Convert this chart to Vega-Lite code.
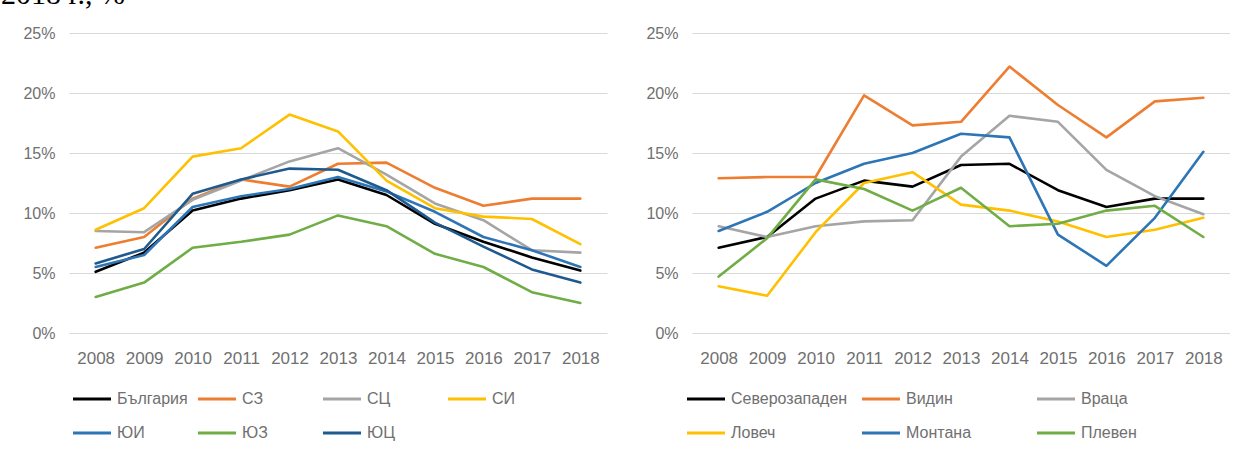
{
  "$schema": "https://vega.github.io/schema/vega-lite/v6.json",
  "background": "white",
  "padding": {"left": 0, "top": -20, "right": 0, "bottom": 0},
  "title": {"text": "2018 г., %", "anchor": "start", "frame": "bounds", "font": "Liberation Serif", "fontSize": 30, "fontWeight": "normal", "color": "#000000", "dx": -22, "offset": 15},
  "bounds": "flush",
  "spacing": 85,
  "resolve": {"scale": {"color": "independent"}},
  "datasets": {
    "left": [
      {"year": "2008", "series": "България", "value": 5.1}, {"year": "2009", "series": "България", "value": 6.7}, {"year": "2010", "series": "България", "value": 10.2}, {"year": "2011", "series": "България", "value": 11.2}, {"year": "2012", "series": "България", "value": 11.9}, {"year": "2013", "series": "България", "value": 12.8}, {"year": "2014", "series": "България", "value": 11.5}, {"year": "2015", "series": "България", "value": 9.1}, {"year": "2016", "series": "България", "value": 7.6}, {"year": "2017", "series": "България", "value": 6.3}, {"year": "2018", "series": "България", "value": 5.2},
      {"year": "2008", "series": "СЗ", "value": 7.1}, {"year": "2009", "series": "СЗ", "value": 8.0}, {"year": "2010", "series": "СЗ", "value": 11.2}, {"year": "2011", "series": "СЗ", "value": 12.8}, {"year": "2012", "series": "СЗ", "value": 12.2}, {"year": "2013", "series": "СЗ", "value": 14.1}, {"year": "2014", "series": "СЗ", "value": 14.2}, {"year": "2015", "series": "СЗ", "value": 12.1}, {"year": "2016", "series": "СЗ", "value": 10.6}, {"year": "2017", "series": "СЗ", "value": 11.2}, {"year": "2018", "series": "СЗ", "value": 11.2},
      {"year": "2008", "series": "СЦ", "value": 8.5}, {"year": "2009", "series": "СЦ", "value": 8.4}, {"year": "2010", "series": "СЦ", "value": 11.1}, {"year": "2011", "series": "СЦ", "value": 12.7}, {"year": "2012", "series": "СЦ", "value": 14.3}, {"year": "2013", "series": "СЦ", "value": 15.4}, {"year": "2014", "series": "СЦ", "value": 13.2}, {"year": "2015", "series": "СЦ", "value": 10.8}, {"year": "2016", "series": "СЦ", "value": 9.4}, {"year": "2017", "series": "СЦ", "value": 6.9}, {"year": "2018", "series": "СЦ", "value": 6.7},
      {"year": "2008", "series": "СИ", "value": 8.6}, {"year": "2009", "series": "СИ", "value": 10.4}, {"year": "2010", "series": "СИ", "value": 14.7}, {"year": "2011", "series": "СИ", "value": 15.4}, {"year": "2012", "series": "СИ", "value": 18.2}, {"year": "2013", "series": "СИ", "value": 16.8}, {"year": "2014", "series": "СИ", "value": 12.7}, {"year": "2015", "series": "СИ", "value": 10.4}, {"year": "2016", "series": "СИ", "value": 9.7}, {"year": "2017", "series": "СИ", "value": 9.5}, {"year": "2018", "series": "СИ", "value": 7.4},
      {"year": "2008", "series": "ЮИ", "value": 5.5}, {"year": "2009", "series": "ЮИ", "value": 6.5}, {"year": "2010", "series": "ЮИ", "value": 10.5}, {"year": "2011", "series": "ЮИ", "value": 11.4}, {"year": "2012", "series": "ЮИ", "value": 12.0}, {"year": "2013", "series": "ЮИ", "value": 13.0}, {"year": "2014", "series": "ЮИ", "value": 11.8}, {"year": "2015", "series": "ЮИ", "value": 10.1}, {"year": "2016", "series": "ЮИ", "value": 8.0}, {"year": "2017", "series": "ЮИ", "value": 6.9}, {"year": "2018", "series": "ЮИ", "value": 5.5},
      {"year": "2008", "series": "ЮЗ", "value": 3.0}, {"year": "2009", "series": "ЮЗ", "value": 4.2}, {"year": "2010", "series": "ЮЗ", "value": 7.1}, {"year": "2011", "series": "ЮЗ", "value": 7.6}, {"year": "2012", "series": "ЮЗ", "value": 8.2}, {"year": "2013", "series": "ЮЗ", "value": 9.8}, {"year": "2014", "series": "ЮЗ", "value": 8.9}, {"year": "2015", "series": "ЮЗ", "value": 6.6}, {"year": "2016", "series": "ЮЗ", "value": 5.5}, {"year": "2017", "series": "ЮЗ", "value": 3.4}, {"year": "2018", "series": "ЮЗ", "value": 2.5},
      {"year": "2008", "series": "ЮЦ", "value": 5.8}, {"year": "2009", "series": "ЮЦ", "value": 7.0}, {"year": "2010", "series": "ЮЦ", "value": 11.6}, {"year": "2011", "series": "ЮЦ", "value": 12.8}, {"year": "2012", "series": "ЮЦ", "value": 13.7}, {"year": "2013", "series": "ЮЦ", "value": 13.6}, {"year": "2014", "series": "ЮЦ", "value": 11.9}, {"year": "2015", "series": "ЮЦ", "value": 9.2}, {"year": "2016", "series": "ЮЦ", "value": 7.2}, {"year": "2017", "series": "ЮЦ", "value": 5.3}, {"year": "2018", "series": "ЮЦ", "value": 4.2}
    ],
    "right": [
      {"year": "2008", "series": "Северозападен", "value": 7.1}, {"year": "2009", "series": "Северозападен", "value": 8.0}, {"year": "2010", "series": "Северозападен", "value": 11.2}, {"year": "2011", "series": "Северозападен", "value": 12.7}, {"year": "2012", "series": "Северозападен", "value": 12.2}, {"year": "2013", "series": "Северозападен", "value": 14.0}, {"year": "2014", "series": "Северозападен", "value": 14.1}, {"year": "2015", "series": "Северозападен", "value": 11.9}, {"year": "2016", "series": "Северозападен", "value": 10.5}, {"year": "2017", "series": "Северозападен", "value": 11.2}, {"year": "2018", "series": "Северозападен", "value": 11.2},
      {"year": "2008", "series": "Видин", "value": 12.9}, {"year": "2009", "series": "Видин", "value": 13.0}, {"year": "2010", "series": "Видин", "value": 13.0}, {"year": "2011", "series": "Видин", "value": 19.8}, {"year": "2012", "series": "Видин", "value": 17.3}, {"year": "2013", "series": "Видин", "value": 17.6}, {"year": "2014", "series": "Видин", "value": 22.2}, {"year": "2015", "series": "Видин", "value": 19.0}, {"year": "2016", "series": "Видин", "value": 16.3}, {"year": "2017", "series": "Видин", "value": 19.3}, {"year": "2018", "series": "Видин", "value": 19.6},
      {"year": "2008", "series": "Враца", "value": 8.9}, {"year": "2009", "series": "Враца", "value": 8.0}, {"year": "2010", "series": "Враца", "value": 8.9}, {"year": "2011", "series": "Враца", "value": 9.3}, {"year": "2012", "series": "Враца", "value": 9.4}, {"year": "2013", "series": "Враца", "value": 14.7}, {"year": "2014", "series": "Враца", "value": 18.1}, {"year": "2015", "series": "Враца", "value": 17.6}, {"year": "2016", "series": "Враца", "value": 13.6}, {"year": "2017", "series": "Враца", "value": 11.4}, {"year": "2018", "series": "Враца", "value": 9.9},
      {"year": "2008", "series": "Ловеч", "value": 3.9}, {"year": "2009", "series": "Ловеч", "value": 3.1}, {"year": "2010", "series": "Ловеч", "value": 8.4}, {"year": "2011", "series": "Ловеч", "value": 12.5}, {"year": "2012", "series": "Ловеч", "value": 13.4}, {"year": "2013", "series": "Ловеч", "value": 10.7}, {"year": "2014", "series": "Ловеч", "value": 10.2}, {"year": "2015", "series": "Ловеч", "value": 9.3}, {"year": "2016", "series": "Ловеч", "value": 8.0}, {"year": "2017", "series": "Ловеч", "value": 8.6}, {"year": "2018", "series": "Ловеч", "value": 9.6},
      {"year": "2008", "series": "Монтана", "value": 8.5}, {"year": "2009", "series": "Монтана", "value": 10.1}, {"year": "2010", "series": "Монтана", "value": 12.5}, {"year": "2011", "series": "Монтана", "value": 14.1}, {"year": "2012", "series": "Монтана", "value": 15.0}, {"year": "2013", "series": "Монтана", "value": 16.6}, {"year": "2014", "series": "Монтана", "value": 16.3}, {"year": "2015", "series": "Монтана", "value": 8.2}, {"year": "2016", "series": "Монтана", "value": 5.6}, {"year": "2017", "series": "Монтана", "value": 9.6}, {"year": "2018", "series": "Монтана", "value": 15.1},
      {"year": "2008", "series": "Плевен", "value": 4.7}, {"year": "2009", "series": "Плевен", "value": 7.9}, {"year": "2010", "series": "Плевен", "value": 12.8}, {"year": "2011", "series": "Плевен", "value": 12.0}, {"year": "2012", "series": "Плевен", "value": 10.2}, {"year": "2013", "series": "Плевен", "value": 12.1}, {"year": "2014", "series": "Плевен", "value": 8.9}, {"year": "2015", "series": "Плевен", "value": 9.1}, {"year": "2016", "series": "Плевен", "value": 10.2}, {"year": "2017", "series": "Плевен", "value": 10.6}, {"year": "2018", "series": "Плевен", "value": 8.0}
    ]
  },
  "hconcat": [
    {
      "width": 538,
      "height": 300,
      "data": {"name": "left"},
      "mark": {"type": "line", "strokeWidth": 2.6, "strokeJoin": "round", "strokeCap": "round"},
      "encoding": {
        "x": {"field": "year", "type": "ordinal", "scale": {"type": "point", "padding": 0.55}, "axis": {"title": null}},
        "y": {"field": "value", "type": "quantitative", "scale": {"domain": [0, 25], "nice": false}, "axis": {"title": null, "values": [0, 5, 10, 15, 20, 25], "labelExpr": "datum.value + '%'"}},
        "color": {"field": "series", "type": "nominal",
          "scale": {"domain": ["България", "СЗ", "СЦ", "СИ", "ЮИ", "ЮЗ", "ЮЦ"], "range": ["#000000", "#ED7D31", "#A5A5A5", "#FFC000", "#2E75B6", "#70AD47", "#1F5A8F"]},
          "legend": {"columns": 4, "columnPadding": 3, "symbolOffset": 2}}
      }
    },
    {
      "width": 538,
      "height": 300,
      "data": {"name": "right"},
      "mark": {"type": "line", "strokeWidth": 2.6, "strokeJoin": "round", "strokeCap": "round"},
      "encoding": {
        "x": {"field": "year", "type": "ordinal", "scale": {"type": "point", "padding": 0.55}, "axis": {"title": null}},
        "y": {"field": "value", "type": "quantitative", "scale": {"domain": [0, 25], "nice": false}, "axis": {"title": null, "values": [0, 5, 10, 15, 20, 25], "labelExpr": "datum.value + '%'"}},
        "color": {"field": "series", "type": "nominal",
          "scale": {"domain": ["Северозападен", "Видин", "Враца", "Ловеч", "Монтана", "Плевен"], "range": ["#000000", "#ED7D31", "#A5A5A5", "#FFC000", "#2E75B6", "#70AD47"]},
          "legend": {"columns": 3, "columnPadding": 7, "symbolOffset": -7}}
      }
    }
  ],
  "config": {
    "view": {"stroke": null},
    "font": "Liberation Sans",
    "axis": {"labelFont": "Liberation Sans", "labelColor": "#707070", "ticks": false, "domain": false},
    "axisX": {"labelAngle": 0, "labelFontSize": 17, "labelPadding": 17, "grid": false},
    "axisY": {"labelFontSize": 16, "labelPadding": 14, "grid": true, "gridColor": "#D9D9D9", "gridWidth": 1.2},
    "legend": {"orient": "bottom", "direction": "horizontal", "title": null, "gridAlign": "all", "symbolType": "stroke", "symbolSize": 1444, "symbolStrokeWidth": 3.2, "labelFont": "Liberation Sans", "labelFontSize": 16, "labelColor": "#707070", "labelOffset": 4, "rowPadding": 5, "offset": 12, "padding": 0}
  }
}
